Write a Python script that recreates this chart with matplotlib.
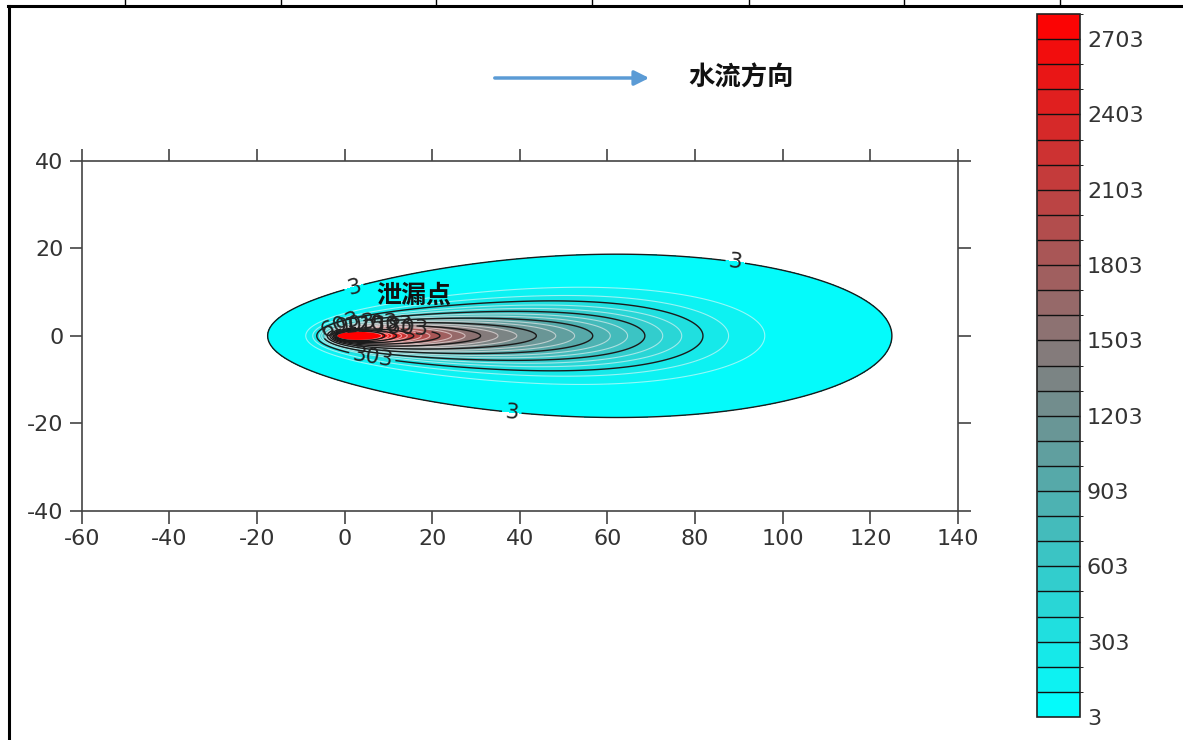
import numpy as np
import matplotlib
matplotlib.use("Agg")
import matplotlib.pyplot as plt
from matplotlib.colors import LinearSegmentedColormap, ListedColormap, BoundaryNorm
from matplotlib.cm import ScalarMappable
from matplotlib.lines import Line2D

plt.rcParams["font.family"] = ["DejaVu Sans", "Noto Sans CJK SC"]
plt.rcParams["axes.unicode_minus"] = False

# ---------------- data ----------------
# continuous leak in uniform groundwater flow (2D advection-dispersion)
flow_velocity = 1.0        # m/d
disp_long = 2.7            # m2/d
disp_trans = 0.27          # m2/d
leak_duration = 72.5       # d
leak_rate = 16000.0        # source strength
source_xy = (0.0, 0.0)

x_limits = [-60, 140]
y_limits = [-40, 40]
x_ticks = [-60, -40, -20, 0, 20, 40, 60, 80, 100, 120, 140]
y_ticks = [-40, -20, 0, 20, 40]
fill_levels = list(range(3, 2804, 100))          # 3, 103, ..., 2803
bar_ticks = list(range(3, 2704, 300))            # 3, 303, ..., 2703
label3_pos = [(2.0, 11.6), (89.2, 17.1), (38.1, -18.0)]
label303_pos = [(6.2, -5.5)]
label_hi_pos = [(-1.0, 2.5), (2.5, 3.0), (6.0, 3.0), (9.5, 2.5), (13.0, 2.0)]
leak_label = "泄漏点"
leak_label_xy = (15.7, 9.1)
flow_label = "水流方向"

# ---------------- concentration field ----------------
xg = np.arange(-60, 140.001, 0.2)
yg = np.arange(-40, 40.001, 0.1)
tau = np.geomspace(1e-4, leak_duration, 3000)
w = np.empty_like(tau)
w[1:-1] = (tau[2:] - tau[:-2]) / 2
w[0] = (tau[1] - tau[0]) / 2
w[-1] = (tau[-1] - tau[-2]) / 2
Gx = np.exp(-((xg[None, :] - source_xy[0] - flow_velocity * tau[:, None]) ** 2)
            / (4 * disp_long * tau[:, None]))
Gy = np.exp(-((yg[None, :] - source_xy[1]) ** 2) / (4 * disp_trans * tau[:, None]))
C = (Gy.T * (w / tau)[None, :]) @ Gx
C *= leak_rate / (4 * np.pi * np.sqrt(disp_long * disp_trans))
X, Y = np.meshgrid(xg, yg)

# ---------------- colours ----------------
base = LinearSegmentedColormap.from_list("plume", ["#00FFFF", "#808080", "#FF0000"])
nb = len(fill_levels) - 1
band_colors = base((np.arange(nb) + 0.5) / nb)
cmap = ListedColormap(band_colors)
cmap.set_over("#FF0000")
norm = BoundaryNorm(fill_levels, nb)

# ---------------- figure ----------------
fig = plt.figure(figsize=(11.83, 7.40), dpi=100)
ax = fig.add_axes([81.7 / 1183, 1 - 511 / 740, 876.3 / 1183, 350.3 / 740])

ax.contourf(X, Y, C, levels=fill_levels, cmap=cmap, norm=norm, extend="max")
white_levels = [l for l in fill_levels if l not in bar_ticks]
ax.contour(X, Y, C, levels=white_levels, colors="white", linewidths=0.8, alpha=0.55)
cs3 = ax.contour(X, Y, C, levels=[3], colors="#1a1a1a", linewidths=1.0)
cs303 = ax.contour(X, Y, C, levels=[303], colors="#1a1a1a", linewidths=1.0)
cshi = ax.contour(X, Y, C, levels=bar_ticks[2:], colors="#1a1a1a", linewidths=1.0)

lab_kw = dict(inline=True, fmt="%d", fontsize=15.5, colors="#222222", inline_spacing=3)
ax.clabel(cs3, manual=label3_pos, **lab_kw)
ax.clabel(cs303, manual=label303_pos, **lab_kw)
ax.clabel(cshi, manual=label_hi_pos, **lab_kw)

ax.text(leak_label_xy[0], leak_label_xy[1], leak_label, ha="center", va="center",
        fontsize=18, fontweight="bold", family=["Noto Sans CJK SC"], color="#111111")

ax.set_xlim(*x_limits)
ax.set_ylim(*y_limits)
ax.set_xticks(x_ticks)
ax.set_yticks(y_ticks)
ax.tick_params(which="both", direction="out", length=9, width=1.2, color="#444444",
               top=True, right=True, labeltop=False, labelright=False,
               labelsize=16, labelcolor="#333333", pad=4)
for s in ax.spines.values():
    s.set_color("#444444")
    s.set_linewidth(1.2)

# colorbar
cax = fig.add_axes([1037 / 1183, 1 - 717 / 740, 43 / 1183, 703 / 740])
cb = fig.colorbar(ScalarMappable(norm=norm, cmap=cmap), cax=cax, ticks=bar_ticks,
                  drawedges=True)
cb.dividers.set_color("#111111")
cb.dividers.set_linewidth(1.0)
cb.outline.set_edgecolor("#222222")
cb.outline.set_linewidth(1.2)
cax.tick_params(length=0, labelsize=16, labelcolor="#333333", pad=5)
cb.set_ticklabels([str(t) for t in bar_ticks])

# flow direction arrow and label
ay = 1 - 78 / 740
ax.annotate("", xy=(652 / 1183, ay), xytext=(492 / 1183, ay), xycoords="figure fraction",
            textcoords="figure fraction", annotation_clip=False,
            arrowprops=dict(arrowstyle="-|>", color="#5B9BD5", lw=2.5, mutation_scale=22))
fig.text(741 / 1183, ay, flow_label, ha="center", va="center", fontsize=19,
         fontweight="bold", family=["Noto Sans CJK SC"], color="#111111")

# surrounding table frame
top_y = 1 - 6 / 740
fig.add_artist(Line2D([8 / 1183, 1], [top_y, top_y], transform=fig.transFigure,
                      color="black", lw=2.2))
fig.add_artist(Line2D([9 / 1183, 9 / 1183], [0, top_y], transform=fig.transFigure,
                      color="black", lw=2.2))
for xp in [124.5, 280.7, 436, 592, 748.6, 904, 1060]:
    fig.add_artist(Line2D([xp / 1183, xp / 1183], [top_y, 1], transform=fig.transFigure,
                          color="black", lw=1.0))

fig.savefig("out.png", dpi=100)
